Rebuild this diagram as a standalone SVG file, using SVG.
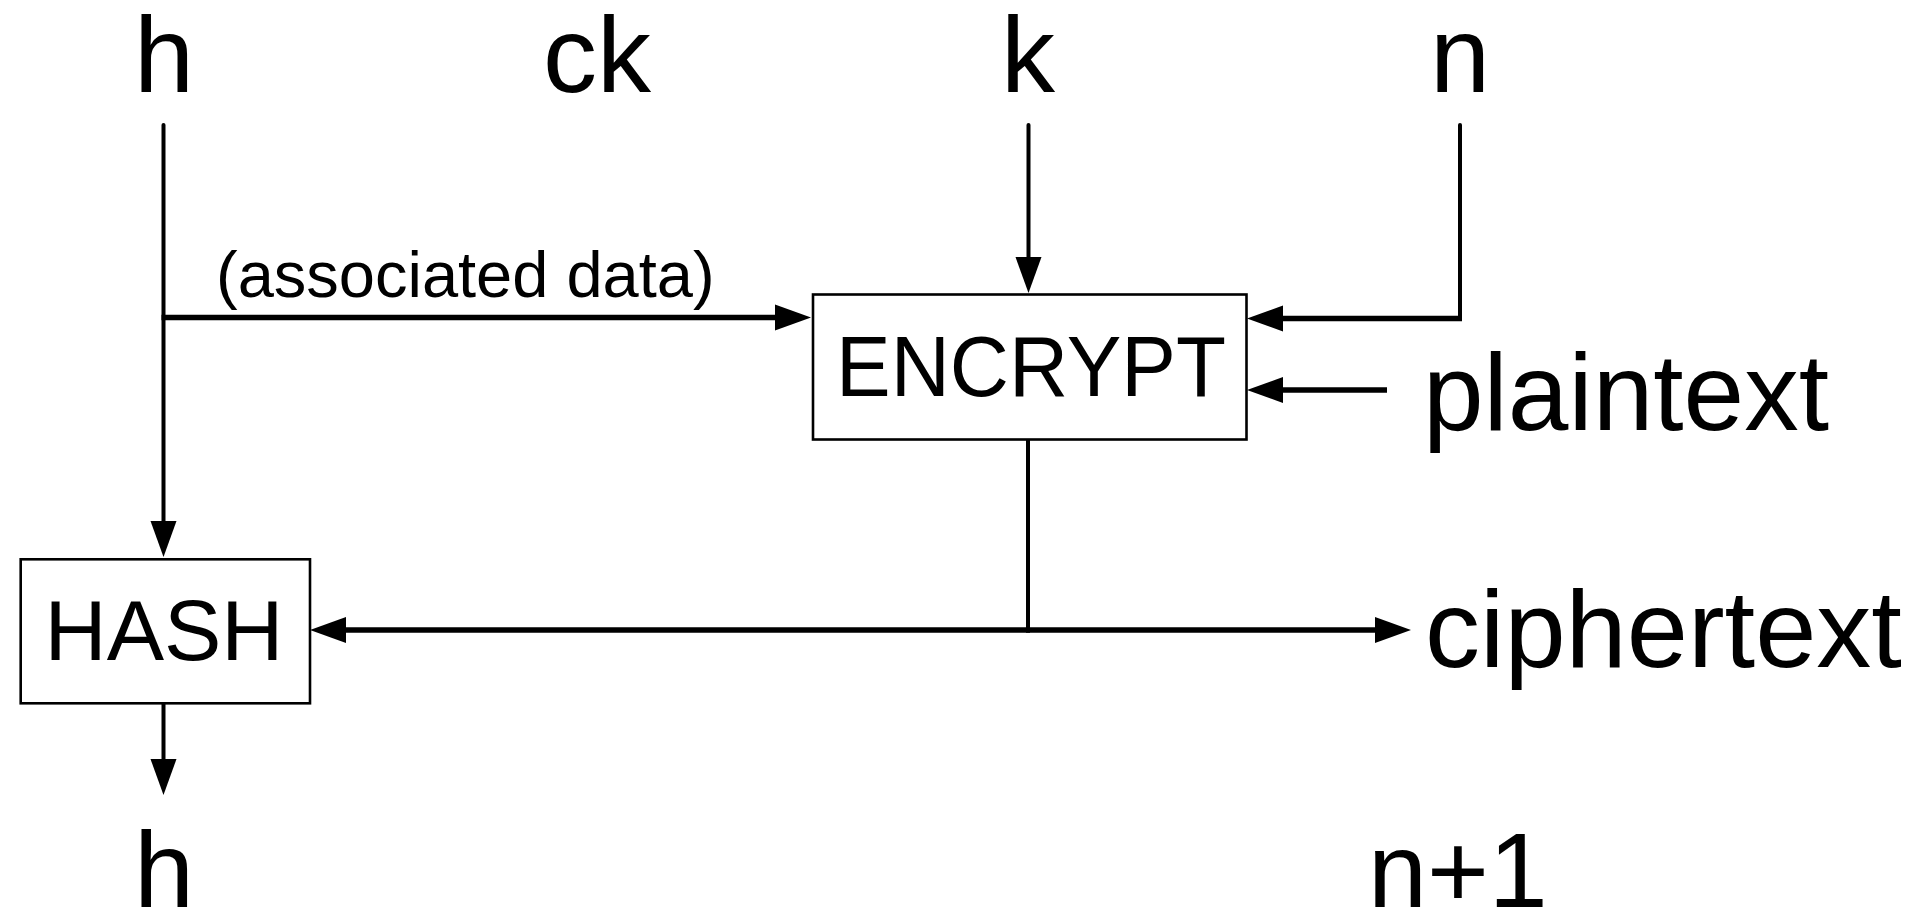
<svg xmlns="http://www.w3.org/2000/svg" width="1927" height="910" viewBox="0 0 1927 910">
  <style>
    text { font-family: "Liberation Sans", Arial, Helvetica, sans-serif; fill: #000; }
    .big { font-size: 108px; }
    .box-label { font-size: 86px; text-anchor: middle; }
    .small { font-size: 65px; }
    .box { fill: #fff; stroke: #000; stroke-width: 2.6; }
    .v { fill: none; stroke: #000; stroke-width: 4; stroke-linecap: round; }
    .h { fill: none; stroke: #000; stroke-width: 5.5; stroke-linecap: butt; }
  </style>
  <defs>
    <marker id="arrow" markerUnits="userSpaceOnUse" markerWidth="36" markerHeight="26" refX="6" refY="13" orient="auto" overflow="visible">
      <path d="M0,0 L36,13 L0,26 Z" fill="#000"/>
    </marker>
  </defs>
  <rect width="1927" height="910" fill="#fff"/>

  <g id="labels">
    <text id="label-h-in" class="big" x="164" y="92" text-anchor="middle">h</text>
    <text id="label-ck" class="big" x="597" y="92" text-anchor="middle">ck</text>
    <text id="label-k" class="big" x="1028" y="92" text-anchor="middle">k</text>
    <text id="label-n" class="big" x="1460" y="92" text-anchor="middle">n</text>
    <text id="label-plaintext" class="big" x="1423" y="430" style="font-size:109px">plaintext</text>
    <text id="label-ciphertext" class="big" x="1425" y="667" style="font-size:110px">ciphertext</text>
    <text id="label-h-out" class="big" x="164" y="907" text-anchor="middle">h</text>
    <text id="label-n1" class="big" x="1368" y="907" style="font-size:106px">n+1</text>
    <text id="label-ad" class="small" x="216" y="297">(associated data)</text>
  </g>

  <g id="connectors">
    <path class="v" d="M163.5,125 V527" marker-end="url(#arrow)"/>
    <path class="h" d="M161.5,317.5 H781" marker-end="url(#arrow)"/>
    <path class="v" d="M1028.5,125 V263" marker-end="url(#arrow)"/>
    <path class="v" d="M1460,125 V318.5"/>
    <path class="h" d="M1462,318.5 H1277" marker-end="url(#arrow)"/>
    <path class="h" d="M1387,390 H1277" marker-end="url(#arrow)"/>
    <path class="v" d="M1028,439 V630"/>
    <path class="h" d="M1030,630 H340" marker-end="url(#arrow)"/>
    <path class="h" d="M1026,630 H1381" marker-end="url(#arrow)"/>
    <path class="v" d="M163.5,703 V765" marker-end="url(#arrow)"/>
  </g>

  <g id="node-encrypt">
    <rect class="box" x="813" y="294.5" width="433.5" height="145"/>
    <text class="box-label" x="1031" y="396" textLength="390" lengthAdjust="spacingAndGlyphs">ENCRYPT</text>
  </g>

  <g id="node-hash">
    <rect class="box" x="20.7" y="559.3" width="289.3" height="144"/>
    <text class="box-label" x="164" y="660">HASH</text>
  </g>
</svg>
